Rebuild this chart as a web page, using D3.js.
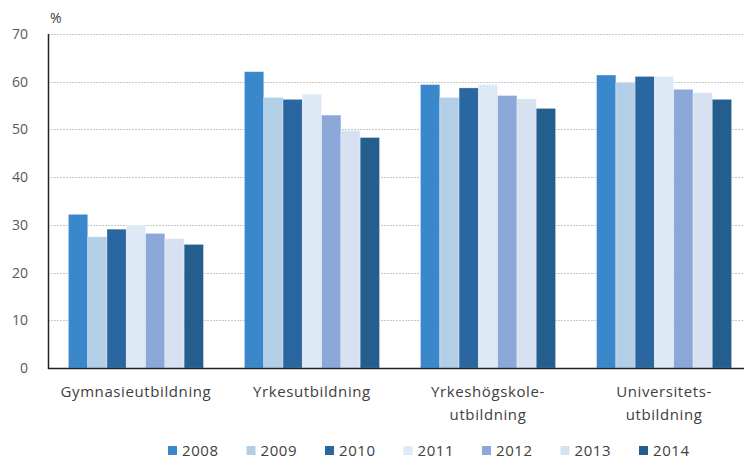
<!DOCTYPE html>
<html>
<head>
<meta charset="utf-8">
<script src="https://cdn.jsdelivr.net/npm/d3@7"></script>
<style>
body { margin: 0; background: #fff; }
text { font-family: "Open Sans", "Lato", sans-serif; }
</style>
</head>
<body>
<div id="chart"></div>
<script>
var categories = ["Gymnasieutbildning", "Yrkesutbildning", "Yrkeshögskole-\nutbildning", "Universitets-\nutbildning"];
var years = ["2008", "2009", "2010", "2011", "2012", "2013", "2014"];
var v2008 = [32.2, 62.1, 59.4, 61.4];
var v2009 = [27.5, 56.7, 56.7, 59.8];
var v2010 = [29.1, 56.3, 58.7, 61.1];
var v2011 = [29.9, 57.4, 59.4, 61.1];
var v2012 = [28.2, 53.0, 57.1, 58.4];
var v2013 = [27.1, 49.8, 56.4, 57.7];
var v2014 = [25.9, 48.3, 54.4, 56.3];
var yTicks = [0, 10, 20, 30, 40, 50, 60, 70];
var colors = ["#3a87cc", "#b3cfe8", "#2a67a0", "#dde9f5", "#8ba8d8", "#d8e1f2", "#245e8f"];

var series = [v2008, v2009, v2010, v2011, v2012, v2013, v2014];

var width = 744, height = 460;
var svg = d3.select("#chart").append("svg")
    .attr("width", width)
    .attr("height", height);

var plotLeft = 48, plotRight = 752, plotTop = 34, plotBottom = 368;

var x0 = d3.scaleBand().domain(categories).range([plotLeft, plotRight]).paddingInner(0.233).paddingOuter(0.116);
var x1 = d3.scaleBand().domain(years).range([0, x0.bandwidth()]);
var y = d3.scaleLinear().domain([0, 70]).range([plotBottom, plotTop]);

// grid lines
svg.append("g").selectAll("line")
    .data(yTicks.slice(1))
    .enter().append("line")
    .attr("x1", plotLeft).attr("x2", width)
    .attr("y1", function(d) { return Math.round(y(d)) + 0.5; })
    .attr("y2", function(d) { return Math.round(y(d)) + 0.5; })
    .attr("stroke", "#c8c8c8")
    .attr("stroke-dasharray", "2,1");

// y tick labels
svg.append("g").selectAll("text")
    .data(yTicks)
    .enter().append("text")
    .attr("x", 28)
    .attr("y", function(d) { return y(d) + 5; })
    .attr("text-anchor", "end")
    .attr("fill", "#595959")
    .style("font-size", "14px")
    .text(function(d) { return d; });

svg.append("text")
    .attr("x", 50).attr("y", 23)
    .attr("fill", "#404040")
    .style("font-size", "14px")
    .text("%");

// bars
series.forEach(function(vals, i) {
    svg.append("g").selectAll("rect")
        .data(vals)
        .enter().append("rect")
        .attr("x", function(d, j) { return x0(categories[j]) + x1(years[i]); })
        .attr("y", function(d) { return y(d); })
        .attr("width", x1.bandwidth())
        .attr("height", function(d) { return y(0) - y(d); })
        .attr("fill", colors[i])
        .attr("stroke", "#ffffff")
        .attr("stroke-opacity", 0.35)
        .attr("stroke-width", 0.8);
});

// axis lines
svg.append("line")
    .attr("x1", plotLeft + 0.5).attr("x2", plotLeft + 0.5)
    .attr("y1", plotTop).attr("y2", plotBottom + 1)
    .attr("stroke", "#222").attr("stroke-width", 1.5);
svg.append("line")
    .attr("x1", plotLeft).attr("x2", width)
    .attr("y1", plotBottom + 0.5).attr("y2", plotBottom + 0.5)
    .attr("stroke", "#222").attr("stroke-width", 1.5);

// category labels
categories.forEach(function(c) {
    var lines = c.split("\n");
    var cx = x0(c) + x0.bandwidth() / 2;
    var t = svg.append("text")
        .attr("x", cx)
        .attr("y", 397)
        .attr("text-anchor", "middle")
        .attr("fill", "#404040")
        .style("font-size", "15px")
        .style("letter-spacing", "0.6px");
    lines.forEach(function(l, k) {
        t.append("tspan")
            .attr("x", cx)
            .attr("dy", k == 0 ? 0 : 23)
            .text(l);
    });
});

// legend
var legend = svg.append("g").selectAll("g")
    .data(years)
    .enter().append("g")
    .attr("transform", function(d, i) { return "translate(" + (168 + i * 78.5) + ",446)"; });
legend.append("rect")
    .attr("width", 9).attr("height", 9)
    .attr("fill", function(d, i) { return colors[i]; });
legend.append("text")
    .attr("x", 14).attr("y", 10)
    .attr("fill", "#404040")
    .style("font-size", "15px")
    .style("letter-spacing", "0.6px")
    .text(function(d) { return d; });
</script>
</body>
</html>
